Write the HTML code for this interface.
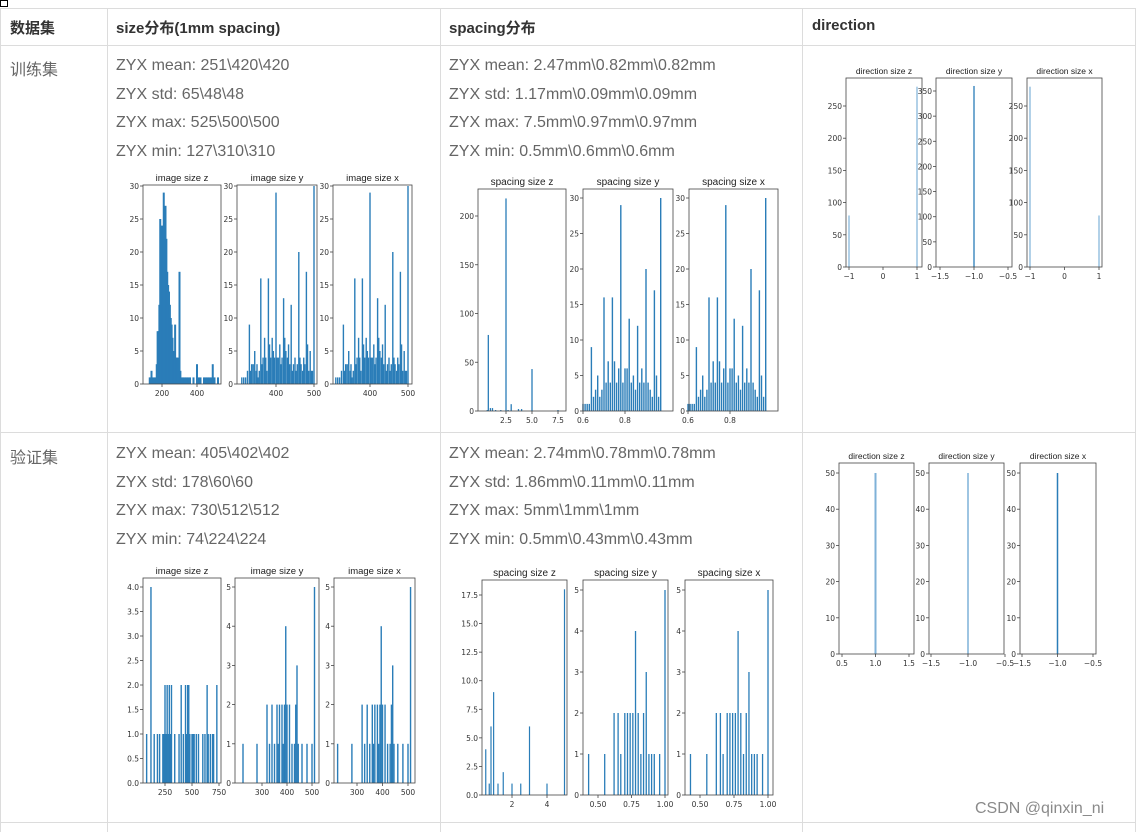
<!DOCTYPE html>
<html><head><meta charset="utf-8">
<style>
body{margin:0;width:1141px;height:832px;background:#fff;position:relative;overflow:hidden;font-family:"Liberation Sans","Noto Sans CJK SC",sans-serif;color:#555}
.hl{position:absolute;height:1px;background:#dcdcdc}
.vl{position:absolute;width:1px;background:#dcdcdc}
.t{position:absolute;font-size:16px;white-space:nowrap;color:#666}
.h{position:absolute;font-size:15px;font-weight:bold;color:#333;white-space:nowrap}
svg{position:absolute;left:0;top:0}
</style></head><body>
<div style="position:absolute;left:0;top:0;width:6px;height:5px;border:1px solid #000"></div>
<div class="hl" style="left:0;top:8px;width:1136px"></div>
<div class="hl" style="left:0;top:45px;width:1136px"></div>
<div class="hl" style="left:0;top:432px;width:1136px"></div>
<div class="hl" style="left:0;top:822px;width:1136px"></div>
<div class="vl" style="left:0;top:8px;height:824px"></div>
<div class="vl" style="left:107px;top:8px;height:824px"></div>
<div class="vl" style="left:440px;top:8px;height:824px"></div>
<div class="vl" style="left:802px;top:8px;height:824px"></div>
<div class="vl" style="left:1135px;top:8px;height:824px"></div>

<div class="h" style="left:10px;top:17px">数据集</div>
<div class="h" style="left:116px;top:17px">size分布(1mm spacing)</div>
<div class="h" style="left:449px;top:17px">spacing分布</div>
<div class="h" style="left:812px;top:17px">direction</div>

<div class="t" style="left:10px;top:56px">训练集</div>
<div class="t" style="left:10px;top:444px">验证集</div>

<div>
<div class="t" style="left:116px;top:57px">ZYX mean: 251\420\420</div>
<div class="t" style="left:116px;top:86px">ZYX std: 65\48\48</div>
<div class="t" style="left:116px;top:114px">ZYX max: 525\500\500</div>
<div class="t" style="left:116px;top:143px">ZYX min: 127\310\310</div>
</div>
<div>
<div class="t" style="left:449px;top:57px">ZYX mean: 2.47mm\0.82mm\0.82mm</div>
<div class="t" style="left:449px;top:86px">ZYX std: 1.17mm\0.09mm\0.09mm</div>
<div class="t" style="left:449px;top:114px">ZYX max: 7.5mm\0.97mm\0.97mm</div>
<div class="t" style="left:449px;top:143px">ZYX min: 0.5mm\0.6mm\0.6mm</div>
</div>
<div>
<div class="t" style="left:116px;top:445px">ZYX mean: 405\402\402</div>
<div class="t" style="left:116px;top:474px">ZYX std: 178\60\60</div>
<div class="t" style="left:116px;top:502px">ZYX max: 730\512\512</div>
<div class="t" style="left:116px;top:531px">ZYX min: 74\224\224</div>
</div>
<div>
<div class="t" style="left:449px;top:445px">ZYX mean: 2.74mm\0.78mm\0.78mm</div>
<div class="t" style="left:449px;top:474px">ZYX std: 1.86mm\0.11mm\0.11mm</div>
<div class="t" style="left:449px;top:502px">ZYX max: 5mm\1mm\1mm</div>
<div class="t" style="left:449px;top:531px">ZYX min: 0.5mm\0.43mm\0.43mm</div>
</div>
<div style="position:absolute;left:975px;top:800px;font-size:16px;color:#8a8a8a">CSDN @qinxin_ni</div>

<svg id="s" width="1141" height="832"></svg>
<script>
// ---- data ----
const trSizeZx=[130,140,150,160,170,175,180,185,190,195,200,205,210,215,220,225,230,235,240,245,250,255,260,265,270,275,280,285,290,295,300,305,310,320,330,340,350,360,380,400,410,420,440,450,460,470,480,490,500,520];
const trSizeZy=[1,2,1,1,3,8,8,12,25,18,24,19,29,20,27,22,17,15,14,12,10,9,7,5,5,9,4,4,4,3,17,2,1,1,1,1,1,1,1,3,1,1,1,1,1,1,1,3,1,1];
const trSizeYx=[310,315,320,325,330,333,336,340,344,348,350,353,356,360,363,366,370,373,376,380,383,386,390,393,396,400,403,406,410,413,416,420,423,426,430,433,436,440,443,446,450,453,456,460,463,466,470,473,476,480,483,486,490,493,496,500];
const trSizeYy=[1,1,1,2,9,2,3,3,5,2,3,1,2,16,3,4,7,4,2,16,6,4,7,5,4,29,4,4,6,3,4,13,7,5,4,6,3,12,2,3,4,2,3,20,4,3,2,4,3,17,6,2,5,2,2,30];
const trSizeXx=trSizeYx;
const trSizeXy=trSizeYy;
const trSpZx=[0.7,0.8,1.0,1.2,1.5,2.0,2.5,2.7,3.0,3.7,4.0,5.0,7.5];
const trSpZy=[1,78,3,3,1,1,218,1,7,2,2,43,1];
const trSpYx=[0.6,0.61,0.62,0.63,0.64,0.65,0.66,0.67,0.68,0.69,0.7,0.71,0.72,0.73,0.74,0.75,0.76,0.77,0.78,0.79,0.8,0.81,0.82,0.83,0.84,0.85,0.86,0.87,0.88,0.89,0.9,0.91,0.92,0.93,0.94,0.95,0.96,0.97];
const trSpYy=[1,1,1,1,9,2,3,5,2,3,16,4,7,4,16,7,4,6,29,4,6,6,13,4,5,3,12,4,6,4,20,4,3,2,17,5,2,30];
const trSpXx=trSpYx;
const trSpXy=trSpYy;
const trDirZx=[-1,1], trDirZy=[80,280];
const trDirYx=[-1], trDirYy=[360];
const trDirXx=[-1,1], trDirXy=[280,80];
const vaSizeZx=[80,120,150,180,200,230,240,250,260,270,280,290,300,310,340,380,400,420,440,450,460,470,480,500,510,520,540,560,600,620,640,650,670,690,700,730];
const vaSizeZy=[1,4,1,1,1,1,1,2,1,2,1,2,1,2,1,1,2,1,2,1,2,2,1,1,1,1,1,1,1,1,2,1,1,1,1,2];
const vaSizeYx=[224,280,320,330,340,350,360,365,370,380,385,390,395,400,410,420,430,435,440,445,460,480,500,510];
const vaSizeYy=[1,1,2,1,2,1,2,1,2,2,1,2,4,2,2,1,1,2,3,1,1,1,1,5];
const vaSizeXx=vaSizeYx;
const vaSizeXy=vaSizeYy;
const vaSpZx=[0.5,0.7,0.8,0.95,1.2,1.5,2.0,2.5,3.0,4.0,5.0];
const vaSpZy=[4,1,6,9,1,2,1,1,6,1,18];
const vaSpYx=[0.43,0.55,0.62,0.65,0.67,0.7,0.72,0.74,0.76,0.78,0.8,0.82,0.84,0.86,0.88,0.9,0.92,0.96,1.0];
const vaSpYy=[1,1,2,2,1,2,2,2,2,4,2,1,2,3,1,1,1,1,5];
const vaSpXx=vaSpYx;
const vaSpXy=vaSpYy;
const vaDirZx=[1], vaDirZy=[50];
const vaDirYx=[-1], vaDirYy=[50];
const vaDirXx=[-1], vaDirXy=[50];
// tick labels
const tk={
 trSizeZ:{x:[200,400],y:[0,5,10,15,20,25,30]},
 trSizeY:{x:[400,500],y:[0,5,10,15,20,25,30]},
 trSpZ:{x:[2.5,5.0,7.5],y:[0,50,100,150,200],xf:1},
 trSpY:{x:[0.6,0.8],y:[0,5,10,15,20,25,30],xf:1},
 trDirZ:{x:[-1,0,1],y:[0,50,100,150,200,250]},
 trDirY:{x:[-1.5,-1.0,-0.5],y:[0,50,100,150,200,250,300,350],xf:1},
 vaSizeZ:{x:[250,500,750],y:[0,0.5,1,1.5,2,2.5,3,3.5,4],yf:1},
 vaSizeY:{x:[300,400,500],y:[0,1,2,3,4,5]},
 vaSpZ:{x:[2,4],y:[0,2.5,5,7.5,10,12.5,15,17.5],yf:1},
 vaSpY:{x:[0.5,0.75,1.0],y:[0,1,2,3,4,5],xf:2},
 vaDirZ:{x:[0.5,1.0,1.5],y:[0,10,20,30,40,50],xf:1},
 vaDirY:{x:[-1.5,-1.0,-0.5],y:[0,10,20,30,40,50],xf:1}
};
// ---- drawing ----
const svg=document.getElementById('s');
const NS='http://www.w3.org/2000/svg';
function mk(t,a,p){const e=document.createElementNS(NS,t);for(const k in a)e.setAttribute(k,a[k]);(p||svg).appendChild(e);return e;}
function fmt(v,f){const s=f?Math.abs(v).toFixed(f):String(Math.abs(v));return (v<0?'\u2212':'')+s;}
function chart(name,title,L,R,T,B,xa,xb,ya,yb,xs,ys,ticks,bw,fs,light){
  const g=mk('g',{});
  
  
  const sx=v=>xa[1]+(v-xa[0])*(xb[1]-xa[1])/(xb[0]-xa[0]);
  const sy=v=>ya[1]+(v-ya[0])*(yb[1]-ya[1])/(yb[0]-ya[0]);
  xs.forEach((x,i)=>{
    const y0=sy(0),y1=sy(ys[i]);
    const r=mk('rect',{x:sx(x)-bw/2,y:y1,width:bw,height:y0-y1,fill:light?'#7fb2d8':'#2a7db8'},g);
    
    
  });
  mk('rect',{x:L,y:T,width:R-L,height:B-T,fill:'none',stroke:'#444','stroke-width':0.8},g);
  const tt=mk('text',{x:(L+R)/2,y:T-4,'font-size':fs,'text-anchor':'middle',fill:'#222','font-family':'Liberation Sans, sans-serif'},g);
  tt.textContent=title;
  ticks.y.forEach(v=>{const y=sy(v);if(y<T-2)return;
    mk('line',{x1:L-3,x2:L,y1:y,y2:y,stroke:'#444','stroke-width':0.8},g);
    const t=mk('text',{x:L-4,y:y+3,'font-size':7.5,'text-anchor':'end',fill:'#333','font-family':'DejaVu Sans, sans-serif'},g);t.textContent=fmt(v,ticks.yf);});
  ticks.x.forEach(v=>{const x=sx(v);
    mk('line',{x1:x,x2:x,y1:B,y2:B+3,stroke:'#444','stroke-width':0.8},g);
    const t=mk('text',{x:x,y:B+12,'font-size':7.5,'text-anchor':'middle',fill:'#333','font-family':'DejaVu Sans, sans-serif'},g);t.textContent=fmt(v,ticks.xf);});
}
chart('train-size-z','image size z',143,221,185,384,[200,162],[400,197],[0,384],[30,186],trSizeZx,trSizeZy,tk.trSizeZ,2.0,9.5);
chart('train-size-y','image size y',237,317,185,384,[400,276],[500,314],[0,384],[30,186],trSizeYx,trSizeYy,tk.trSizeY,1.4,9.5);
chart('train-size-x','image size x',333,412,185,384,[400,370],[500,408],[0,384],[30,186],trSizeXx,trSizeXy,tk.trSizeY,1.4,9.5);
chart('train-spacing-z','spacing size z',478,566,189,411,[2.5,506],[5.0,532],[0,411],[200,216],trSpZx,trSpZy,tk.trSpZ,1.3,10);
chart('train-spacing-y','spacing size y',583,673,189,411,[0.6,583],[0.8,625],[0,411],[30,198],trSpYx,trSpYy,tk.trSpY,1.4,10);
chart('train-spacing-x','spacing size x',689,778,189,411,[0.6,688],[0.8,730],[0,411],[30,198],trSpXx,trSpXy,tk.trSpY,1.4,10);
chart('train-direction-z','direction size z',846,922,78,267,[-1,849],[1,917],[0,267],[250,106],trDirZx,trDirZy,tk.trDirZ,1.2,8.5,true);
chart('train-direction-y','direction size y',936,1012,78,267,[-1.5,940],[-0.5,1008],[0,267],[350,91],trDirYx,trDirYy,tk.trDirY,1.3,8.5);
chart('train-direction-x','direction size x',1027,1102,78,267,[-1,1030],[1,1099],[0,267],[250,106],trDirXx,trDirXy,tk.trDirZ,1.2,8.5,true);
chart('val-size-z','image size z',143,221,578,783,[250,165],[500,192],[0,783],[4,587],vaSizeZx,vaSizeZy,tk.vaSizeZ,1.4,9.5);
chart('val-size-y','image size y',235,319,578,783,[300,262],[500,312],[0,783],[5,587],vaSizeYx,vaSizeYy,tk.vaSizeY,1.4,9.5);
chart('val-size-x','image size x',334,415,578,783,[300,357],[500,408],[0,783],[5,587],vaSizeXx,vaSizeXy,tk.vaSizeY,1.4,9.5);
chart('val-spacing-z','spacing size z',482,567,580,795,[2,512],[4,547],[0,795],[17.5,595],vaSpZx,vaSpZy,tk.vaSpZ,1.2,10);
chart('val-spacing-y','spacing size y',583,668,580,795,[0.5,598],[1.0,665],[0,795],[5,590],vaSpYx,vaSpYy,tk.vaSpY,1.3,10);
chart('val-spacing-x','spacing size x',685,773,580,795,[0.5,700],[1.0,768],[0,795],[5,590],vaSpXx,vaSpXy,tk.vaSpY,1.3,10);
chart('val-direction-z','direction size z',839,914,463,654,[0.5,842],[1.5,909],[0,654],[50,473],vaDirZx,vaDirZy,tk.vaDirZ,2,8.5,true);
chart('val-direction-y','direction size y',929,1004,463,654,[-1.5,931],[-0.5,1005],[0,654],[50,473],vaDirYx,vaDirYy,tk.vaDirY,1.5,8.5,true);
chart('val-direction-x','direction size x',1020,1096,463,654,[-1.5,1022],[-0.5,1093],[0,654],[50,473],vaDirXx,vaDirXy,tk.vaDirY,1.5,8.5);
</script>
</body></html>
